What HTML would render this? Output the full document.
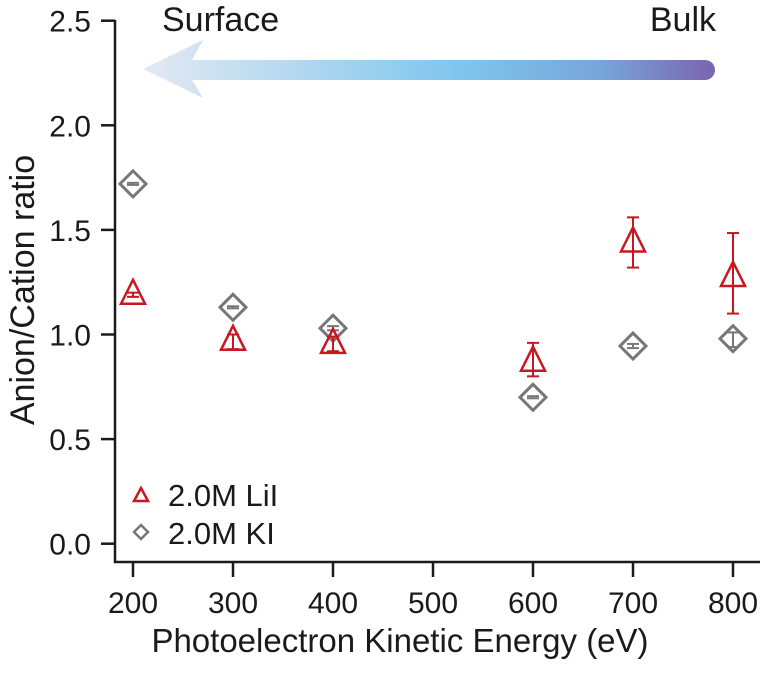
<!DOCTYPE html>
<html><head><meta charset="utf-8"><style>
body{margin:0;background:#fff}
text{font-family:"Liberation Sans",Arial,sans-serif;fill:#1a1a1a}
</style></head><body>
<svg width="762" height="669" viewBox="0 0 762 669">
<defs>
<linearGradient id="g" x1="143" y1="0" x2="715" y2="0" gradientUnits="userSpaceOnUse">
<stop offset="0" stop-color="#e4e9f3"/><stop offset="0.55" stop-color="#7fc6ec"/><stop offset="0.8" stop-color="#78a6da"/><stop offset="1" stop-color="#7a64ae"/></linearGradient>
</defs>
<g>
<path d="M143,69 L203,40 L192,60 L705,60 A10,10 0 0 1 705,80 L192,80 L203,98 Z" fill="url(#g)"/>
</g>
<text x="162" y="31" font-size="34">Surface</text>
<text x="716" y="31" font-size="34" text-anchor="end">Bulk</text>
<g id="axes"></g>
<g id="marks"></g>
<g>
<path d="M134,501 L141,488 L148,501 Z" fill="none" stroke="#c8171e" stroke-width="2.5"/>
<text x="168" y="506" font-size="31">2.0M LiI</text>
<path d="M141,525 L148,532 L141,539 L134,532 Z" fill="none" stroke="#777" stroke-width="2.5"/>
<text x="168" y="544" font-size="31">2.0M KI</text>
</g>
<text x="400" y="652" font-size="33" text-anchor="middle">Photoelectron Kinetic Energy (eV)</text>
<text transform="translate(34,290) rotate(-90)" font-size="34" text-anchor="middle">Anion/Cation ratio</text>
</svg>
<script>
const energies=[200,300,400,600,700,800];
const liiVals=[1.19,0.97,0.955,0.87,1.44,1.275];
const liiHi=[1.20,1.00,0.99,0.96,1.56,1.485];
const liiLo=[1.18,0.93,0.92,0.80,1.32,1.10];
const kiVals=[1.72,1.13,1.03,0.70,0.945,0.98];
const kiHi=[1.725,1.135,1.04,0.705,0.955,1.01];
const kiLo=[1.715,1.125,1.02,0.695,0.935,0.94];
const xTicks=[200,300,400,500,600,700,800];
const yTicks=[0.0,0.5,1.0,1.5,2.0,2.5];
const X=v=>133+(v-200);
const Y=v=>543.7-v*209.2;
const NS="http://www.w3.org/2000/svg";
function mk(tag,attrs,parent){const e=document.createElementNS(NS,tag);for(const k in attrs)e.setAttribute(k,attrs[k]);parent.appendChild(e);return e;}
const ax=document.getElementById('axes'),mg=document.getElementById('marks');
let a=mk('path',{d:'M115,20 L115,562 L760,562',fill:'none',stroke:'#1a1a1a','stroke-width':2.5},ax);


xTicks.forEach(t=>{
 let l=mk('line',{x1:X(t),x2:X(t),y1:562,y2:577,stroke:'#1a1a1a','stroke-width':2.5},ax);
 
 
 let tx=mk('text',{x:X(t),y:613,'font-size':30,'text-anchor':'middle'},ax);tx.textContent=t;
 
 
});
yTicks.forEach(t=>{
 let l=mk('line',{x1:101,x2:115,y1:Y(t),y2:Y(t),stroke:'#1a1a1a','stroke-width':2.5},ax);
 
 
 let tx=mk('text',{x:91,y:Y(t)+11,'font-size':30,'text-anchor':'end'},ax);tx.textContent=t.toFixed(1);
 
 
});
function err(x,hi,lo,col){
 const g=mk('g',{stroke:col,'stroke-width':2,fill:'none'},mg);
 
 
 mk('line',{x1:x,x2:x,y1:Y(hi),y2:Y(lo)},g);
 mk('line',{x1:x-6,x2:x+6,y1:Y(hi),y2:Y(hi)},g);
 mk('line',{x1:x-6,x2:x+6,y1:Y(lo),y2:Y(lo)},g);
}
energies.forEach((e,i)=>{
 const x=X(e);
 err(x,kiHi[i],kiLo[i],'#777');
 let y=Y(kiVals[i]);
 let d=mk('path',{d:`M${x},${y-13} L${x+13},${y} L${x},${y+13} L${x-13},${y} Z`,fill:'none',stroke:'#777','stroke-width':3},mg);
 
 
 err(x,liiHi[i],liiLo[i],'#c8171e');
 y=Y(liiVals[i]);
 let t=mk('path',{d:`M${x},${y-15} L${x+12},${y+9} L${x-12},${y+9} Z`,fill:'none',stroke:'#c8171e','stroke-width':2.5},mg);
 
 
});
</script>
</body></html>
